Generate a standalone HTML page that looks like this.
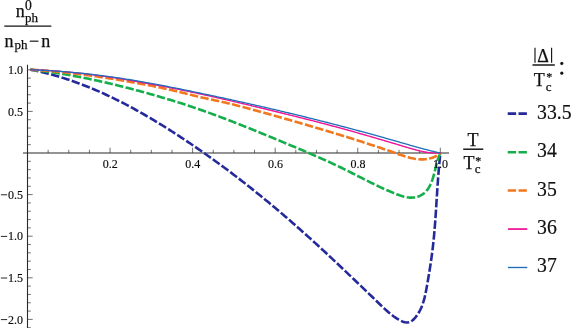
<!DOCTYPE html>
<html>
<head>
<meta charset="utf-8">
<style>
html,body{margin:0;padding:0;background:#fff;}
body{width:572px;height:328px;overflow:hidden;position:relative;font-family:"Liberation Serif",serif;color:#141414;}
svg{position:absolute;left:0;top:0;will-change:transform;}
.t{position:absolute;white-space:nowrap;line-height:1;will-change:transform;}
</style>
</head>
<body>
<svg width="572" height="328" viewBox="0 0 572 328">
<g stroke="#2a2a2a" fill="none">
<line x1="23" y1="153" x2="449" y2="153" stroke-width="1.15"/>
<line x1="27.5" y1="64.7" x2="27.5" y2="328" stroke-width="1.1"/>
</g>
<g stroke="#333" stroke-width="0.7" fill="none">
<line x1="27.50" y1="327.72" x2="30.80" y2="327.72"/>
<line x1="27.50" y1="319.40" x2="32.70" y2="319.40"/>
<line x1="27.50" y1="311.08" x2="30.80" y2="311.08"/>
<line x1="27.50" y1="302.76" x2="30.80" y2="302.76"/>
<line x1="27.50" y1="294.44" x2="30.80" y2="294.44"/>
<line x1="27.50" y1="286.12" x2="30.80" y2="286.12"/>
<line x1="27.50" y1="277.80" x2="32.70" y2="277.80"/>
<line x1="27.50" y1="269.48" x2="30.80" y2="269.48"/>
<line x1="27.50" y1="261.16" x2="30.80" y2="261.16"/>
<line x1="27.50" y1="252.84" x2="30.80" y2="252.84"/>
<line x1="27.50" y1="244.52" x2="30.80" y2="244.52"/>
<line x1="27.50" y1="236.20" x2="32.70" y2="236.20"/>
<line x1="27.50" y1="227.88" x2="30.80" y2="227.88"/>
<line x1="27.50" y1="219.56" x2="30.80" y2="219.56"/>
<line x1="27.50" y1="211.24" x2="30.80" y2="211.24"/>
<line x1="27.50" y1="202.92" x2="30.80" y2="202.92"/>
<line x1="27.50" y1="194.60" x2="32.70" y2="194.60"/>
<line x1="27.50" y1="186.28" x2="30.80" y2="186.28"/>
<line x1="27.50" y1="177.96" x2="30.80" y2="177.96"/>
<line x1="27.50" y1="169.64" x2="30.80" y2="169.64"/>
<line x1="27.50" y1="161.32" x2="30.80" y2="161.32"/>
<line x1="27.50" y1="144.68" x2="30.80" y2="144.68"/>
<line x1="27.50" y1="136.36" x2="30.80" y2="136.36"/>
<line x1="27.50" y1="128.04" x2="30.80" y2="128.04"/>
<line x1="27.50" y1="119.72" x2="30.80" y2="119.72"/>
<line x1="27.50" y1="111.40" x2="32.70" y2="111.40"/>
<line x1="27.50" y1="103.08" x2="30.80" y2="103.08"/>
<line x1="27.50" y1="94.76" x2="30.80" y2="94.76"/>
<line x1="27.50" y1="86.44" x2="30.80" y2="86.44"/>
<line x1="27.50" y1="78.12" x2="30.80" y2="78.12"/>
<line x1="27.50" y1="69.80" x2="32.70" y2="69.80"/>
<line x1="48.14" y1="153.00" x2="48.14" y2="149.80"/>
<line x1="68.78" y1="153.00" x2="68.78" y2="149.80"/>
<line x1="89.42" y1="153.00" x2="89.42" y2="149.80"/>
<line x1="110.06" y1="153.00" x2="110.06" y2="147.70"/>
<line x1="130.70" y1="153.00" x2="130.70" y2="149.80"/>
<line x1="151.34" y1="153.00" x2="151.34" y2="149.80"/>
<line x1="171.98" y1="153.00" x2="171.98" y2="149.80"/>
<line x1="192.62" y1="153.00" x2="192.62" y2="147.70"/>
<line x1="213.26" y1="153.00" x2="213.26" y2="149.80"/>
<line x1="233.90" y1="153.00" x2="233.90" y2="149.80"/>
<line x1="254.54" y1="153.00" x2="254.54" y2="149.80"/>
<line x1="275.18" y1="153.00" x2="275.18" y2="147.70"/>
<line x1="295.82" y1="153.00" x2="295.82" y2="149.80"/>
<line x1="316.46" y1="153.00" x2="316.46" y2="149.80"/>
<line x1="337.10" y1="153.00" x2="337.10" y2="149.80"/>
<line x1="357.74" y1="153.00" x2="357.74" y2="147.70"/>
<line x1="378.38" y1="153.00" x2="378.38" y2="149.80"/>
<line x1="399.02" y1="153.00" x2="399.02" y2="149.80"/>
<line x1="419.66" y1="153.00" x2="419.66" y2="149.80"/>
<line x1="440.30" y1="153.00" x2="440.30" y2="147.70"/>
</g>
<g fill="none" stroke-linejoin="round">
<path stroke="#252a9b" stroke-width="2.6" stroke-dasharray="8.4 2.4" d="M30.10 69.54 L31.80 69.87 L33.91 70.30 L36.01 70.74 L38.11 71.20 L40.20 71.68 L42.29 72.17 L44.37 72.67 L46.45 73.19 L48.52 73.72 L50.59 74.27 L52.65 74.84 L54.71 75.41 L56.76 76.01 L58.81 76.61 L60.86 77.23 L62.89 77.87 L64.93 78.51 L66.96 79.17 L68.98 79.85 L71.00 80.53 L73.02 81.23 L75.03 81.95 L77.03 82.67 L79.03 83.41 L81.03 84.16 L83.02 84.92 L85.01 85.69 L86.99 86.48 L88.97 87.28 L90.94 88.09 L92.91 88.91 L94.88 89.74 L96.84 90.58 L98.80 91.43 L100.75 92.30 L102.70 93.17 L104.64 94.05 L106.58 94.95 L108.52 95.85 L110.45 96.77 L112.38 97.69 L114.30 98.63 L116.22 99.57 L118.13 100.53 L120.04 101.49 L121.95 102.46 L123.85 103.44 L125.75 104.43 L127.65 105.42 L129.54 106.43 L131.43 107.44 L133.31 108.46 L135.19 109.49 L137.07 110.53 L138.94 111.58 L140.81 112.63 L142.67 113.69 L144.53 114.75 L146.39 115.83 L148.24 116.91 L150.09 117.99 L151.94 119.09 L153.78 120.19 L155.62 121.29 L157.46 122.40 L159.29 123.52 L161.12 124.64 L162.94 125.77 L164.77 126.91 L166.58 128.05 L168.40 129.19 L170.21 130.34 L172.02 131.49 L173.83 132.65 L175.63 133.81 L177.43 134.98 L179.22 136.15 L181.02 137.33 L182.80 138.51 L184.59 139.69 L186.37 140.88 L188.15 142.07 L189.93 143.27 L191.70 144.47 L193.47 145.67 L195.24 146.88 L197.01 148.09 L198.77 149.31 L200.53 150.53 L202.28 151.76 L204.03 152.98 L205.78 154.22 L207.53 155.45 L209.27 156.69 L211.01 157.94 L212.75 159.18 L214.49 160.44 L216.22 161.69 L217.95 162.95 L219.67 164.21 L221.39 165.48 L223.11 166.75 L224.83 168.02 L226.55 169.30 L228.26 170.58 L229.97 171.87 L231.67 173.16 L233.38 174.45 L235.08 175.75 L236.77 177.04 L238.47 178.35 L240.16 179.65 L241.85 180.96 L243.54 182.28 L245.22 183.59 L246.90 184.91 L248.58 186.24 L250.26 187.56 L251.93 188.89 L253.60 190.23 L255.27 191.56 L256.94 192.90 L258.60 194.25 L260.26 195.59 L261.92 196.94 L263.57 198.29 L265.23 199.65 L266.88 201.01 L268.53 202.37 L270.17 203.74 L271.82 205.11 L273.46 206.48 L275.09 207.85 L276.73 209.23 L278.36 210.61 L280.00 211.99 L281.62 213.38 L283.25 214.77 L284.87 216.16 L286.50 217.56 L288.12 218.95 L289.73 220.35 L291.35 221.76 L292.96 223.16 L294.57 224.57 L296.18 225.99 L297.78 227.40 L299.39 228.82 L300.99 230.24 L302.59 231.66 L304.18 233.09 L305.78 234.51 L307.37 235.94 L308.96 237.38 L310.55 238.81 L312.14 240.25 L313.72 241.69 L315.30 243.13 L316.89 244.58 L318.46 246.03 L320.04 247.47 L321.62 248.93 L323.19 250.38 L324.76 251.83 L326.33 253.29 L327.90 254.75 L329.47 256.21 L331.03 257.67 L332.60 259.13 L334.16 260.60 L335.72 262.07 L337.28 263.53 L338.84 265.00 L340.40 266.47 L341.95 267.94 L343.51 269.42 L345.06 270.89 L346.62 272.37 L348.17 273.84 L349.72 275.32 L351.27 276.80 L352.82 278.28 L354.37 279.76 L355.91 281.24 L357.46 282.72 L359.00 284.20 L360.55 285.68 L362.09 287.16 L363.64 288.64 L365.18 290.13 L366.72 291.61 L368.26 293.09 L369.81 294.58 L371.35 296.06 L372.89 297.54 L374.43 299.03 L375.97 300.51 L377.51 301.99 L379.05 303.47 L380.59 304.96 L382.13 306.44 L383.68 307.91 L385.24 309.36 L386.82 310.79 L388.43 312.20 L390.06 313.57 L391.73 314.91 L393.44 316.20 L395.20 317.43 L397.01 318.61 L398.88 319.73 L400.81 320.77 L402.80 321.68 L404.85 322.32 L406.96 322.54 L409.04 322.26 L410.97 321.49 L412.71 320.27 L414.27 318.75 L415.70 317.08 L417.00 315.35 L418.19 313.57 L419.28 311.74 L420.26 309.86 L421.16 307.94 L421.97 305.98 L422.70 303.98 L423.36 301.96 L423.96 299.91 L424.51 297.84 L425.01 295.75 L425.47 293.64 L425.91 291.52 L426.31 289.40 L426.70 287.27 L427.08 285.14 L427.46 283.02 L427.83 280.90 L428.19 278.78 L428.55 276.66 L428.91 274.54 L429.26 272.43 L429.60 270.31 L429.93 268.20 L430.26 266.09 L430.58 263.98 L430.89 261.87 L431.20 259.76 L431.50 257.64 L431.78 255.53 L432.06 253.42 L432.33 251.30 L432.60 249.19 L432.85 247.07 L433.09 244.95 L433.32 242.83 L433.55 240.71 L433.76 238.58 L433.97 236.46 L434.16 234.33 L434.35 232.20 L434.54 230.07 L434.71 227.94 L434.88 225.80 L435.05 223.67 L435.21 221.53 L435.37 219.40 L435.52 217.26 L435.66 215.12 L435.81 212.98 L435.95 210.84 L436.09 208.70 L436.23 206.56 L436.36 204.42 L436.50 202.28 L436.63 200.14 L436.77 198.00 L436.90 195.86 L437.04 193.72 L437.18 191.58 L437.31 189.44 L437.46 187.30 L437.60 185.16 L437.75 183.02 L437.90 180.89 L438.05 178.75 L438.21 176.61 L438.38 174.48 L438.55 172.35 L438.73 170.22 L438.91 168.08 L439.10 165.96 L439.30 163.83 L439.50 161.70 L439.71 159.58 L439.94 157.46 L440.17 155.34 L440.41 153.22"/>
<path stroke="#14AF4B" stroke-width="2.6" stroke-dasharray="8.4 2.4" d="M30.10 69.66 L30.64 69.71 L32.18 69.87 L33.72 70.03 L35.26 70.20 L36.80 70.37 L38.34 70.55 L39.88 70.73 L41.42 70.92 L42.96 71.11 L44.50 71.31 L46.03 71.51 L47.57 71.71 L49.11 71.92 L50.64 72.14 L52.18 72.36 L53.71 72.58 L55.24 72.81 L56.78 73.04 L58.31 73.28 L59.84 73.52 L61.37 73.76 L62.91 74.01 L64.44 74.26 L65.97 74.52 L67.50 74.78 L69.02 75.05 L70.55 75.31 L72.08 75.59 L73.61 75.86 L75.13 76.15 L76.66 76.43 L78.19 76.72 L79.71 77.01 L81.24 77.31 L82.76 77.61 L84.28 77.91 L85.81 78.22 L87.33 78.53 L88.85 78.84 L90.37 79.16 L91.89 79.48 L93.41 79.80 L94.93 80.13 L96.45 80.46 L97.97 80.79 L99.48 81.13 L101.00 81.47 L102.52 81.81 L104.03 82.16 L105.55 82.51 L107.06 82.86 L108.57 83.21 L110.09 83.57 L111.60 83.93 L113.11 84.29 L114.62 84.66 L116.13 85.03 L117.64 85.40 L119.15 85.78 L120.66 86.15 L122.17 86.53 L123.68 86.92 L125.19 87.30 L126.69 87.69 L128.20 88.08 L129.70 88.47 L131.21 88.86 L132.71 89.26 L134.22 89.66 L135.72 90.06 L137.22 90.46 L138.72 90.87 L140.22 91.28 L141.72 91.68 L143.22 92.10 L144.72 92.51 L146.22 92.93 L147.72 93.34 L149.22 93.76 L150.71 94.18 L152.21 94.61 L153.70 95.03 L155.20 95.46 L156.69 95.89 L158.18 96.32 L159.68 96.76 L161.17 97.19 L162.66 97.63 L164.15 98.07 L165.64 98.52 L167.12 98.96 L168.61 99.41 L170.10 99.86 L171.58 100.32 L173.07 100.77 L174.55 101.23 L176.03 101.69 L177.52 102.16 L179.00 102.62 L180.48 103.09 L181.95 103.57 L183.43 104.04 L184.91 104.52 L186.38 105.00 L187.86 105.49 L189.33 105.98 L190.80 106.47 L192.28 106.96 L193.75 107.46 L195.21 107.96 L196.68 108.46 L198.15 108.96 L199.62 109.47 L201.08 109.99 L202.54 110.50 L204.01 111.02 L205.47 111.54 L206.93 112.06 L208.39 112.58 L209.85 113.11 L211.31 113.64 L212.77 114.17 L214.22 114.71 L215.68 115.25 L217.13 115.79 L218.59 116.33 L220.04 116.87 L221.49 117.42 L222.95 117.97 L224.40 118.52 L225.85 119.07 L227.30 119.63 L228.75 120.18 L230.20 120.74 L231.64 121.30 L233.09 121.86 L234.54 122.43 L235.98 122.99 L237.43 123.56 L238.88 124.13 L240.32 124.70 L241.76 125.27 L243.21 125.85 L244.65 126.42 L246.09 127.00 L247.54 127.58 L248.98 128.16 L250.42 128.74 L251.86 129.32 L253.30 129.90 L254.74 130.49 L256.18 131.07 L257.62 131.66 L259.06 132.25 L260.50 132.84 L261.94 133.43 L263.38 134.02 L264.82 134.61 L266.25 135.20 L267.69 135.79 L269.13 136.38 L270.57 136.98 L272.01 137.57 L273.44 138.17 L274.88 138.76 L276.32 139.36 L277.75 139.95 L279.19 140.55 L280.63 141.15 L282.07 141.74 L283.50 142.34 L284.94 142.94 L286.38 143.54 L287.81 144.14 L289.25 144.73 L290.69 145.33 L292.12 145.93 L293.56 146.54 L295.00 147.14 L296.43 147.74 L297.87 148.34 L299.30 148.95 L300.73 149.55 L302.17 150.16 L303.60 150.77 L305.03 151.38 L306.46 151.99 L307.89 152.60 L309.32 153.22 L310.74 153.83 L312.17 154.45 L313.60 155.07 L315.02 155.69 L316.44 156.31 L317.86 156.94 L319.28 157.57 L320.70 158.20 L322.12 158.83 L323.54 159.46 L324.95 160.10 L326.36 160.74 L327.78 161.38 L329.18 162.03 L330.59 162.67 L332.00 163.32 L333.40 163.98 L334.80 164.64 L336.20 165.29 L337.60 165.96 L339.00 166.62 L340.39 167.29 L341.78 167.97 L343.17 168.64 L344.56 169.32 L345.94 170.01 L347.33 170.69 L348.71 171.39 L350.09 172.08 L351.46 172.77 L352.84 173.47 L354.22 174.17 L355.59 174.87 L356.97 175.57 L358.34 176.28 L359.72 176.98 L361.10 177.68 L362.47 178.38 L363.85 179.08 L365.23 179.78 L366.62 180.48 L368.00 181.18 L369.39 181.87 L370.78 182.57 L372.17 183.26 L373.57 183.94 L374.97 184.62 L376.37 185.30 L377.78 185.98 L379.19 186.65 L380.61 187.31 L382.03 187.97 L383.46 188.62 L384.89 189.27 L386.33 189.91 L387.78 190.55 L389.23 191.17 L390.69 191.79 L392.16 192.41 L393.63 193.01 L395.11 193.61 L396.60 194.19 L398.10 194.76 L399.60 195.30 L401.10 195.80 L402.61 196.26 L404.12 196.67 L405.63 197.02 L407.14 197.30 L408.65 197.51 L410.15 197.63 L411.65 197.65 L413.15 197.57 L414.63 197.39 L416.10 197.10 L417.54 196.70 L418.95 196.20 L420.32 195.60 L421.64 194.90 L422.90 194.10 L424.09 193.20 L425.21 192.21 L426.26 191.12 L427.23 189.95 L428.12 188.70 L428.96 187.38 L429.73 186.00 L430.44 184.58 L431.10 183.11 L431.71 181.60 L432.27 180.08 L432.79 178.53 L433.27 176.97 L433.72 175.42 L434.14 173.87 L434.53 172.33 L434.90 170.80 L435.26 169.28 L435.62 167.77 L435.97 166.27 L436.34 164.78 L436.72 163.31 L437.13 161.84 L437.56 160.38 L438.03 158.93 L438.54 157.50 L439.10 156.07 L439.72 154.66 L440.39 153.25"/>
<path stroke="#F0781E" stroke-width="2.6" stroke-dasharray="8.4 2.4" d="M30.10 69.68 L30.35 69.69 L31.77 69.76 L33.19 69.84 L34.61 69.92 L36.03 70.01 L37.45 70.09 L38.87 70.19 L40.29 70.28 L41.71 70.38 L43.13 70.48 L44.55 70.59 L45.97 70.70 L47.39 70.81 L48.81 70.93 L50.23 71.05 L51.65 71.17 L53.07 71.30 L54.48 71.43 L55.90 71.56 L57.32 71.70 L58.74 71.83 L60.15 71.97 L61.57 72.12 L62.99 72.27 L64.40 72.41 L65.82 72.57 L67.23 72.72 L68.65 72.88 L70.06 73.04 L71.48 73.20 L72.89 73.37 L74.31 73.53 L75.72 73.70 L77.14 73.88 L78.55 74.05 L79.96 74.23 L81.38 74.41 L82.79 74.59 L84.20 74.77 L85.61 74.96 L87.03 75.14 L88.44 75.33 L89.85 75.52 L91.26 75.72 L92.67 75.91 L94.08 76.11 L95.49 76.30 L96.91 76.50 L98.32 76.71 L99.73 76.91 L101.13 77.11 L102.54 77.32 L103.95 77.53 L105.36 77.74 L106.77 77.95 L108.18 78.16 L109.59 78.38 L110.99 78.60 L112.40 78.82 L113.81 79.04 L115.22 79.26 L116.62 79.49 L118.03 79.71 L119.43 79.94 L120.84 80.17 L122.24 80.41 L123.65 80.64 L125.05 80.88 L126.45 81.12 L127.86 81.36 L129.26 81.60 L130.66 81.85 L132.06 82.10 L133.47 82.35 L134.87 82.60 L136.27 82.85 L137.67 83.11 L139.07 83.37 L140.47 83.63 L141.87 83.89 L143.26 84.16 L144.66 84.43 L146.06 84.70 L147.46 84.97 L148.85 85.25 L150.25 85.53 L151.64 85.81 L153.04 86.09 L154.43 86.38 L155.83 86.66 L157.22 86.95 L158.61 87.25 L160.00 87.54 L161.40 87.84 L162.79 88.14 L164.18 88.45 L165.57 88.75 L166.96 89.06 L168.34 89.37 L169.73 89.69 L171.12 90.01 L172.51 90.33 L173.89 90.65 L175.28 90.97 L176.66 91.30 L178.05 91.63 L179.43 91.97 L180.81 92.31 L182.20 92.65 L183.58 92.99 L184.96 93.33 L186.34 93.68 L187.72 94.02 L189.10 94.37 L190.48 94.71 L191.86 95.06 L193.25 95.40 L194.63 95.74 L196.01 96.08 L197.40 96.42 L198.78 96.75 L200.17 97.07 L201.56 97.40 L202.95 97.71 L204.34 98.03 L205.73 98.34 L207.12 98.64 L208.52 98.94 L209.91 99.25 L211.30 99.54 L212.70 99.84 L214.09 100.14 L215.49 100.44 L216.88 100.74 L218.27 101.04 L219.66 101.35 L221.05 101.66 L222.44 101.97 L223.83 102.28 L225.22 102.60 L226.60 102.93 L227.98 103.25 L229.37 103.59 L230.75 103.92 L232.13 104.26 L233.51 104.60 L234.88 104.95 L236.26 105.30 L237.64 105.65 L239.01 106.00 L240.39 106.36 L241.76 106.72 L243.14 107.08 L244.51 107.45 L245.88 107.81 L247.26 108.18 L248.63 108.55 L250.00 108.92 L251.37 109.29 L252.75 109.67 L254.12 110.04 L255.49 110.42 L256.87 110.80 L258.24 111.17 L259.61 111.55 L260.99 111.93 L262.36 112.31 L263.73 112.69 L265.11 113.07 L266.48 113.46 L267.86 113.84 L269.23 114.22 L270.61 114.61 L271.98 114.99 L273.36 115.38 L274.73 115.76 L276.11 116.15 L277.48 116.54 L278.85 116.93 L280.23 117.32 L281.60 117.71 L282.98 118.10 L284.35 118.49 L285.73 118.88 L287.10 119.27 L288.47 119.66 L289.85 120.06 L291.22 120.45 L292.59 120.85 L293.96 121.24 L295.33 121.64 L296.71 122.03 L298.08 122.43 L299.45 122.83 L300.82 123.23 L302.19 123.63 L303.56 124.02 L304.93 124.42 L306.29 124.82 L307.66 125.23 L309.03 125.63 L310.39 126.03 L311.76 126.43 L313.13 126.83 L314.49 127.24 L315.85 127.64 L317.22 128.05 L318.58 128.45 L319.94 128.86 L321.30 129.26 L322.66 129.67 L324.02 130.07 L325.38 130.48 L326.73 130.89 L328.09 131.30 L329.45 131.71 L330.80 132.12 L332.16 132.53 L333.51 132.94 L334.87 133.35 L336.22 133.76 L337.57 134.18 L338.93 134.59 L340.28 135.00 L341.63 135.42 L342.98 135.84 L344.33 136.26 L345.68 136.67 L347.03 137.10 L348.38 137.52 L349.74 137.94 L351.09 138.36 L352.44 138.79 L353.79 139.21 L355.14 139.64 L356.49 140.07 L357.84 140.50 L359.19 140.93 L360.54 141.36 L361.89 141.80 L363.24 142.23 L364.59 142.67 L365.95 143.11 L367.30 143.55 L368.65 143.99 L370.00 144.44 L371.36 144.88 L372.71 145.33 L374.06 145.78 L375.42 146.23 L376.77 146.68 L378.13 147.14 L379.49 147.59 L380.84 148.05 L382.20 148.51 L383.56 148.98 L384.92 149.44 L386.28 149.91 L387.64 150.38 L389.01 150.85 L390.37 151.32 L391.73 151.80 L393.10 152.27 L394.46 152.75 L395.83 153.24 L397.20 153.72 L398.57 154.20 L399.94 154.67 L401.31 155.14 L402.68 155.60 L404.06 156.05 L405.43 156.47 L406.80 156.88 L408.18 157.27 L409.56 157.64 L410.93 157.98 L412.31 158.28 L413.69 158.56 L415.07 158.80 L416.45 159.00 L417.83 159.16 L419.21 159.28 L420.59 159.35 L421.97 159.37 L423.35 159.34 L424.73 159.26 L426.11 159.12 L427.49 158.92 L428.88 158.65 L430.26 158.32 L431.63 157.92 L433.00 157.45 L434.33 156.90 L435.64 156.27 L436.91 155.56 L438.13 154.75 L439.29 153.86 L440.38 152.87"/>
<path stroke="#F01496" stroke-width="1.4" d="M30.10 69.72 L30.32 69.72 L31.73 69.77 L33.15 69.82 L34.56 69.87 L35.97 69.92 L37.38 69.98 L38.80 70.04 L40.21 70.11 L41.62 70.18 L43.03 70.25 L44.44 70.32 L45.85 70.40 L47.27 70.48 L48.68 70.57 L50.09 70.66 L51.50 70.75 L52.91 70.85 L54.32 70.94 L55.72 71.05 L57.13 71.15 L58.54 71.26 L59.95 71.37 L61.36 71.48 L62.77 71.60 L64.17 71.72 L65.58 71.84 L66.99 71.97 L68.39 72.10 L69.80 72.23 L71.21 72.36 L72.61 72.50 L74.02 72.64 L75.42 72.78 L76.83 72.93 L78.23 73.08 L79.63 73.23 L81.04 73.38 L82.44 73.54 L83.85 73.70 L85.25 73.86 L86.65 74.02 L88.05 74.19 L89.46 74.36 L90.86 74.53 L92.26 74.71 L93.66 74.89 L95.06 75.06 L96.46 75.25 L97.86 75.43 L99.26 75.62 L100.66 75.81 L102.06 76.00 L103.46 76.19 L104.86 76.39 L106.26 76.59 L107.66 76.79 L109.06 76.99 L110.45 77.19 L111.85 77.40 L113.25 77.61 L114.65 77.82 L116.04 78.03 L117.44 78.25 L118.83 78.47 L120.23 78.68 L121.63 78.91 L123.02 79.13 L124.42 79.35 L125.81 79.58 L127.20 79.81 L128.60 80.04 L129.99 80.27 L131.39 80.51 L132.78 80.74 L134.17 80.98 L135.56 81.22 L136.96 81.46 L138.35 81.70 L139.74 81.95 L141.13 82.19 L142.52 82.44 L143.91 82.69 L145.30 82.94 L146.69 83.19 L148.08 83.44 L149.47 83.70 L150.86 83.95 L152.25 84.21 L153.64 84.47 L155.03 84.73 L156.42 84.99 L157.80 85.26 L159.19 85.52 L160.58 85.79 L161.97 86.06 L163.35 86.32 L164.74 86.60 L166.13 86.87 L167.51 87.14 L168.90 87.41 L170.28 87.69 L171.67 87.97 L173.05 88.24 L174.44 88.52 L175.82 88.80 L177.21 89.08 L178.59 89.37 L179.97 89.65 L181.36 89.94 L182.74 90.22 L184.12 90.51 L185.51 90.80 L186.89 91.09 L188.27 91.38 L189.65 91.67 L191.04 91.96 L192.42 92.26 L193.80 92.55 L195.18 92.85 L196.56 93.15 L197.94 93.44 L199.32 93.74 L200.70 94.04 L202.08 94.34 L203.46 94.65 L204.84 94.95 L206.22 95.25 L207.60 95.56 L208.98 95.86 L210.36 96.17 L211.74 96.48 L213.12 96.79 L214.50 97.10 L215.87 97.41 L217.25 97.72 L218.63 98.03 L220.01 98.34 L221.39 98.66 L222.76 98.97 L224.14 99.29 L225.52 99.60 L226.89 99.92 L228.27 100.24 L229.65 100.55 L231.02 100.87 L232.40 101.19 L233.78 101.51 L235.15 101.83 L236.53 102.15 L237.90 102.48 L239.28 102.80 L240.65 103.12 L242.03 103.45 L243.40 103.77 L244.78 104.10 L246.15 104.42 L247.53 104.75 L248.90 105.07 L250.28 105.40 L251.65 105.73 L253.03 106.06 L254.40 106.39 L255.77 106.72 L257.15 107.05 L258.52 107.38 L259.89 107.71 L261.27 108.04 L262.64 108.37 L264.01 108.70 L265.39 109.03 L266.76 109.37 L268.13 109.70 L269.51 110.03 L270.88 110.37 L272.25 110.70 L273.62 111.04 L275.00 111.37 L276.37 111.71 L277.74 112.04 L279.11 112.38 L280.49 112.71 L281.86 113.05 L283.23 113.39 L284.60 113.72 L285.97 114.06 L287.34 114.40 L288.72 114.74 L290.09 115.08 L291.46 115.42 L292.83 115.76 L294.20 116.10 L295.57 116.44 L296.94 116.78 L298.31 117.13 L299.68 117.47 L301.05 117.82 L302.42 118.16 L303.79 118.51 L305.16 118.85 L306.53 119.20 L307.90 119.55 L309.27 119.89 L310.63 120.24 L312.00 120.59 L313.37 120.94 L314.74 121.30 L316.11 121.65 L317.47 122.00 L318.84 122.36 L320.21 122.71 L321.57 123.07 L322.94 123.42 L324.31 123.78 L325.67 124.14 L327.04 124.50 L328.40 124.86 L329.77 125.22 L331.14 125.58 L332.50 125.95 L333.86 126.31 L335.23 126.68 L336.59 127.04 L337.96 127.41 L339.32 127.78 L340.68 128.15 L342.05 128.52 L343.41 128.89 L344.77 129.27 L346.13 129.64 L347.49 130.02 L348.85 130.40 L350.22 130.77 L351.58 131.15 L352.94 131.53 L354.30 131.92 L355.66 132.30 L357.02 132.68 L358.37 133.07 L359.73 133.46 L361.09 133.84 L362.45 134.23 L363.81 134.62 L365.17 135.01 L366.52 135.40 L367.88 135.80 L369.24 136.19 L370.59 136.58 L371.95 136.98 L373.31 137.37 L374.66 137.77 L376.02 138.17 L377.38 138.57 L378.73 138.96 L380.09 139.36 L381.44 139.76 L382.80 140.16 L384.16 140.56 L385.51 140.97 L386.87 141.37 L388.22 141.77 L389.58 142.17 L390.93 142.58 L392.29 142.98 L393.64 143.38 L395.00 143.79 L396.35 144.19 L397.71 144.60 L399.06 145.00 L400.42 145.41 L401.77 145.81 L403.13 146.22 L404.48 146.62 L405.84 147.03 L407.19 147.44 L408.55 147.84 L409.91 148.24 L411.26 148.63 L412.62 149.02 L413.98 149.40 L415.34 149.77 L416.71 150.13 L418.07 150.48 L419.44 150.81 L420.81 151.12 L422.18 151.42 L423.56 151.70 L424.94 151.96 L426.32 152.19 L427.71 152.40 L429.10 152.59 L430.50 152.75 L431.90 152.88 L433.30 152.98 L434.71 153.04 L436.13 153.08 L437.55 153.08 L438.97 153.04 L440.40 152.96"/>
<path stroke="#1E6EB9" stroke-width="1.3" d="M30.10 69.67 L30.32 69.68 L31.73 69.73 L33.14 69.79 L34.55 69.85 L35.97 69.91 L37.38 69.97 L38.79 70.04 L40.20 70.11 L41.61 70.18 L43.02 70.26 L44.43 70.33 L45.83 70.41 L47.24 70.49 L48.65 70.58 L50.06 70.67 L51.47 70.76 L52.88 70.85 L54.29 70.94 L55.70 71.04 L57.11 71.14 L58.51 71.25 L59.92 71.35 L61.33 71.46 L62.74 71.57 L64.15 71.68 L65.55 71.80 L66.96 71.91 L68.37 72.04 L69.77 72.16 L71.18 72.28 L72.59 72.41 L73.99 72.54 L75.40 72.67 L76.80 72.81 L78.21 72.95 L79.61 73.09 L81.02 73.23 L82.42 73.38 L83.83 73.52 L85.23 73.67 L86.64 73.83 L88.04 73.98 L89.44 74.14 L90.85 74.30 L92.25 74.46 L93.65 74.63 L95.05 74.79 L96.46 74.96 L97.86 75.13 L99.26 75.31 L100.66 75.49 L102.06 75.66 L103.46 75.85 L104.86 76.03 L106.26 76.22 L107.66 76.41 L109.06 76.60 L110.46 76.79 L111.86 76.99 L113.25 77.18 L114.65 77.38 L116.05 77.59 L117.45 77.79 L118.84 78.00 L120.24 78.21 L121.63 78.42 L123.03 78.63 L124.42 78.85 L125.82 79.07 L127.21 79.29 L128.61 79.51 L130.00 79.74 L131.40 79.97 L132.79 80.20 L134.18 80.43 L135.57 80.66 L136.96 80.90 L138.36 81.13 L139.75 81.37 L141.14 81.61 L142.53 81.86 L143.92 82.10 L145.31 82.35 L146.70 82.59 L148.09 82.84 L149.48 83.10 L150.87 83.35 L152.26 83.60 L153.64 83.86 L155.03 84.12 L156.42 84.38 L157.81 84.64 L159.20 84.90 L160.58 85.16 L161.97 85.43 L163.36 85.69 L164.74 85.96 L166.13 86.23 L167.52 86.50 L168.90 86.77 L170.29 87.04 L171.67 87.32 L173.06 87.59 L174.44 87.87 L175.83 88.14 L177.21 88.42 L178.60 88.70 L179.98 88.98 L181.36 89.26 L182.75 89.54 L184.13 89.82 L185.51 90.10 L186.90 90.39 L188.28 90.67 L189.66 90.96 L191.05 91.24 L192.43 91.53 L193.81 91.81 L195.19 92.10 L196.58 92.39 L197.96 92.68 L199.34 92.97 L200.72 93.26 L202.10 93.55 L203.49 93.84 L204.87 94.13 L206.25 94.42 L207.63 94.71 L209.01 95.00 L210.39 95.30 L211.77 95.59 L213.15 95.88 L214.54 96.18 L215.92 96.47 L217.30 96.77 L218.68 97.07 L220.06 97.36 L221.44 97.66 L222.82 97.96 L224.20 98.26 L225.58 98.56 L226.96 98.86 L228.33 99.16 L229.71 99.46 L231.09 99.76 L232.47 100.06 L233.85 100.36 L235.23 100.67 L236.61 100.97 L237.99 101.27 L239.36 101.58 L240.74 101.89 L242.12 102.19 L243.50 102.50 L244.88 102.81 L246.25 103.11 L247.63 103.42 L249.01 103.73 L250.38 104.04 L251.76 104.35 L253.14 104.67 L254.52 104.98 L255.89 105.29 L257.27 105.60 L258.64 105.92 L260.02 106.23 L261.40 106.55 L262.77 106.86 L264.15 107.18 L265.52 107.50 L266.90 107.82 L268.27 108.14 L269.65 108.45 L271.02 108.77 L272.40 109.10 L273.77 109.42 L275.15 109.74 L276.52 110.06 L277.90 110.39 L279.27 110.71 L280.64 111.03 L282.02 111.36 L283.39 111.69 L284.77 112.01 L286.14 112.34 L287.51 112.67 L288.88 113.00 L290.26 113.33 L291.63 113.66 L293.00 113.99 L294.37 114.32 L295.75 114.65 L297.12 114.99 L298.49 115.32 L299.86 115.66 L301.23 115.99 L302.60 116.33 L303.97 116.66 L305.35 117.00 L306.72 117.34 L308.09 117.68 L309.46 118.02 L310.83 118.36 L312.20 118.70 L313.57 119.04 L314.94 119.38 L316.31 119.73 L317.68 120.07 L319.04 120.42 L320.41 120.76 L321.78 121.11 L323.15 121.46 L324.52 121.80 L325.89 122.15 L327.25 122.50 L328.62 122.85 L329.99 123.20 L331.36 123.55 L332.72 123.91 L334.09 124.26 L335.46 124.61 L336.82 124.97 L338.19 125.32 L339.56 125.68 L340.92 126.04 L342.29 126.39 L343.65 126.75 L345.02 127.11 L346.39 127.47 L347.75 127.83 L349.12 128.19 L350.48 128.56 L351.84 128.92 L353.21 129.28 L354.57 129.65 L355.94 130.01 L357.30 130.38 L358.66 130.75 L360.03 131.11 L361.39 131.48 L362.75 131.85 L364.11 132.22 L365.48 132.59 L366.84 132.97 L368.20 133.34 L369.56 133.71 L370.92 134.09 L372.29 134.46 L373.65 134.84 L375.01 135.21 L376.37 135.59 L377.73 135.97 L379.09 136.35 L380.45 136.73 L381.81 137.11 L383.17 137.49 L384.53 137.87 L385.89 138.26 L387.24 138.64 L388.60 139.03 L389.96 139.41 L391.32 139.80 L392.68 140.19 L394.03 140.58 L395.39 140.96 L396.75 141.35 L398.11 141.74 L399.46 142.14 L400.82 142.53 L402.18 142.92 L403.53 143.31 L404.89 143.70 L406.25 144.09 L407.61 144.48 L408.96 144.87 L410.32 145.26 L411.68 145.64 L413.04 146.03 L414.40 146.41 L415.75 146.79 L417.11 147.17 L418.47 147.54 L419.84 147.92 L421.20 148.29 L422.56 148.66 L423.92 149.02 L425.29 149.38 L426.65 149.74 L428.02 150.10 L429.38 150.45 L430.75 150.80 L432.12 151.14 L433.49 151.48 L434.86 151.81 L436.23 152.14 L437.61 152.46 L438.98 152.78 L440.36 153.09"/>
</g>
<g fill="none">
<line x1="507.7" y1="113.65" x2="527" y2="113.65" stroke="#252a9b" stroke-width="2.6" stroke-dasharray="8.4 2.4"/>
<line x1="507.7" y1="152.2" x2="527" y2="152.2" stroke="#14AF4B" stroke-width="2.6" stroke-dasharray="8.4 2.4"/>
<line x1="507.7" y1="190.5" x2="527" y2="190.5" stroke="#F0781E" stroke-width="2.6" stroke-dasharray="8.4 2.4"/>
<line x1="508" y1="229.05" x2="527.3" y2="229.05" stroke="#F01496" stroke-width="1.75"/>
<line x1="508" y1="267.5" x2="527.3" y2="267.5" stroke="#1E6EB9" stroke-width="1.35"/>
</g>
<g stroke="#101010" stroke-width="1.45">
<line x1="4.3" y1="26.1" x2="51.3" y2="26.1"/>
<line x1="463.2" y1="149.2" x2="483.3" y2="149.2"/>
<line x1="532.5" y1="65" x2="554.8" y2="65"/>
</g>
<g font-family="Liberation Serif, serif" fill="#101010" stroke="#101010" stroke-width="0.25">
<!-- y-axis label -->
<text x="15.8" y="17.1" font-size="18">n</text>
<text x="25" y="10.3" font-size="13.6">0</text>
<text x="25.1" y="21.8" font-size="13">ph</text>
<text x="4.5" y="46.7" font-size="18">n</text>
<text x="14.4" y="49.3" font-size="13">ph</text>
<text x="28.9" y="46.9" font-size="18">−</text>
<text x="41.2" y="46.7" font-size="18">n</text>
<!-- x-axis label -->
<text x="467.4" y="145.7" font-size="18">T</text>
<text x="463.5" y="168.7" font-size="18">T</text>
<text x="475.2" y="164.6" font-size="12">*</text>
<text x="474.8" y="173.3" font-size="13">c</text>
<!-- legend title -->
<line x1="535" y1="47.8" x2="535" y2="62.7" stroke="#141414" stroke-width="1.15"/>
<text x="537.3" y="61.8" font-size="18">Δ</text>
<line x1="551.6" y1="47.8" x2="551.6" y2="62.7" stroke="#141414" stroke-width="1.15"/>
<text x="533.7" y="85.5" font-size="18">T</text>
<text x="546.2" y="80.8" font-size="12">*</text>
<text x="545.8" y="90.6" font-size="13">c</text>
<circle cx="561.8" cy="63.5" r="1.45"/>
<circle cx="561.8" cy="73.2" r="1.45"/>
<g font-size="20.8" stroke="#141414" stroke-width="0.2" transform="translate(537.1,0) scale(0.947,1)">
<text x="0" y="118.6">33.5</text>
<text x="0" y="157.3">34</text>
<text x="0" y="195.6">35</text>
<text x="0" y="234.1">36</text>
<text x="0" y="272.5">37</text>
</g>
</g>

<g font-family="Liberation Serif, serif" font-size="12" fill="#0a0a0a" stroke="#0a0a0a" stroke-width="0.15">
<text x="23.0" y="73.90" text-anchor="end">1.0</text>
<text x="23.0" y="115.50" text-anchor="end">0.5</text>
<text x="23.0" y="198.70" text-anchor="end">0.5</text>
<line x1="0.9" y1="194.80" x2="7.2" y2="194.80" stroke="#111" stroke-width="0.9"/>
<text x="23.0" y="240.30" text-anchor="end">1.0</text>
<line x1="0.9" y1="236.40" x2="7.2" y2="236.40" stroke="#111" stroke-width="0.9"/>
<text x="23.0" y="281.90" text-anchor="end">1.5</text>
<line x1="0.9" y1="278.00" x2="7.2" y2="278.00" stroke="#111" stroke-width="0.9"/>
<text x="23.0" y="323.50" text-anchor="end">2.0</text>
<line x1="0.9" y1="319.60" x2="7.2" y2="319.60" stroke="#111" stroke-width="0.9"/>
<text x="110.26" y="167.8" text-anchor="middle">0.2</text>
<text x="192.82" y="167.8" text-anchor="middle">0.4</text>
<text x="275.38" y="167.8" text-anchor="middle">0.6</text>
<text x="357.94" y="167.8" text-anchor="middle">0.8</text>
<text x="440.50" y="167.8" text-anchor="middle">1.0</text>
</g>
</svg>

</body>
</html>
